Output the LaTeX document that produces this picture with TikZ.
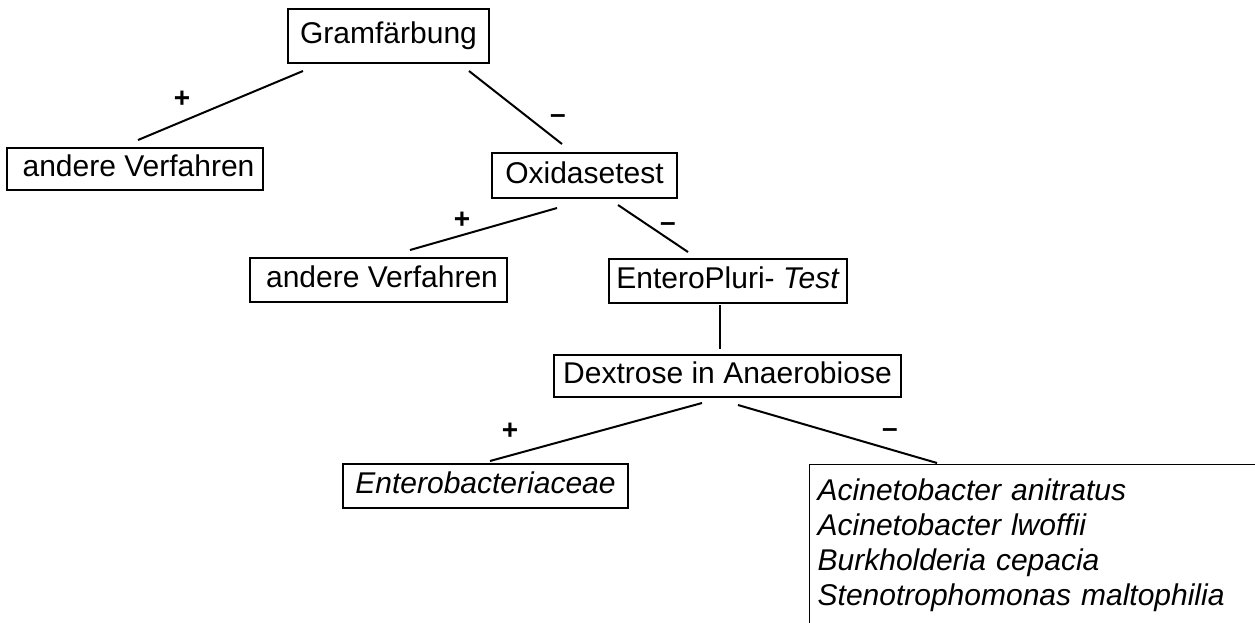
\documentclass[tikz,border=0pt]{standalone}
\usepackage{fontspec}
\setmainfont{Liberation Sans}
\begin{document}
\begin{tikzpicture}[x=1pt,y=-1pt,
  box/.style={draw, line width=1.3pt, rectangle, inner sep=0pt,
    text height=21.5pt, text depth=6pt, font=\fontsize{30}{35}\selectfont},
  conn/.style={line width=2pt},
  sign/.style={anchor=base, inner sep=0pt, font=\fontsize{28}{30}\selectfont\bfseries}]
\useasboundingbox (0,0) rectangle (1255,622);
\fill[white] (0,0) rectangle (1255,622);
\begin{scope}
\clip (0,0) rectangle (1255,622);
% boxes
\node[box, minimum width=201pt, minimum height=54pt] (gram) at (388.5,36) {Gramfärbung};
\node[box, minimum width=256pt, minimum height=42pt] (av1) at (135,169) {\hspace{7pt}andere Verfahren};
\node[box, minimum width=185pt, minimum height=45pt] (oxi) at (584.5,175.5) {Oxidasetest};
\node[box, minimum width=257pt, minimum height=44pt] (av2) at (378.5,280) {\hspace{7pt}andere Verfahren};
\node[box, minimum width=238pt, minimum height=44pt] (ep) at (728,281) {EnteroPluri- \textit{Test}};
\node[box, minimum width=347pt, minimum height=42pt] (dex) at (727.5,376) {Dextrose in Anaerobiose};
\node[box, minimum width=285pt, minimum height=44pt] (ent) at (485.5,486) {\textit{Enterobacteriaceae}};
\node[draw, line width=1.3pt, anchor=north west, inner xsep=8pt, inner ysep=14pt,
      text width=480pt, align=left, font=\fontsize{30}{35}\selectfont\itshape] (spec) at (809,464)
  {Acinetobacter anitratus\\Acinetobacter lwoffii\\Burkholderia cepacia\\Stenotrophomonas maltophilia};
% connector end points
\coordinate (gL) at (303,71);   \coordinate (av1T) at (138,140);
\coordinate (gR) at (469,71);   \coordinate (oxiT) at (562,144);
\coordinate (oL) at (557,208);  \coordinate (av2T) at (410,250);
\coordinate (oR) at (618,205);  \coordinate (epT) at (688,252);
\coordinate (epB) at (720,305); \coordinate (dexT) at (720,349);
\coordinate (dL) at (702,403);  \coordinate (entT) at (490,461);
\coordinate (dR) at (738,405);  \coordinate (specT) at (937,463);
\draw[conn] (gL) -- (av1T);
\draw[conn] (gR) -- (oxiT);
\draw[conn] (oL) -- (av2T);
\draw[conn] (oR) -- (epT);
\draw[conn] (epB) -- (dexT);
\draw[conn] (dL) -- (entT);
\draw[conn] (dR) -- (specT);
% signs
\node[sign] (p1) at (182,107) {+};
\node[sign] (m1) at (558,123) {–};
\node[sign] (p2) at (462,228) {+};
\node[sign] (m2) at (668,231) {–};
\node[sign] (p3) at (510,439) {+};
\node[sign] (m3) at (890,437) {–};
\end{scope}
\end{tikzpicture}
\end{document}
